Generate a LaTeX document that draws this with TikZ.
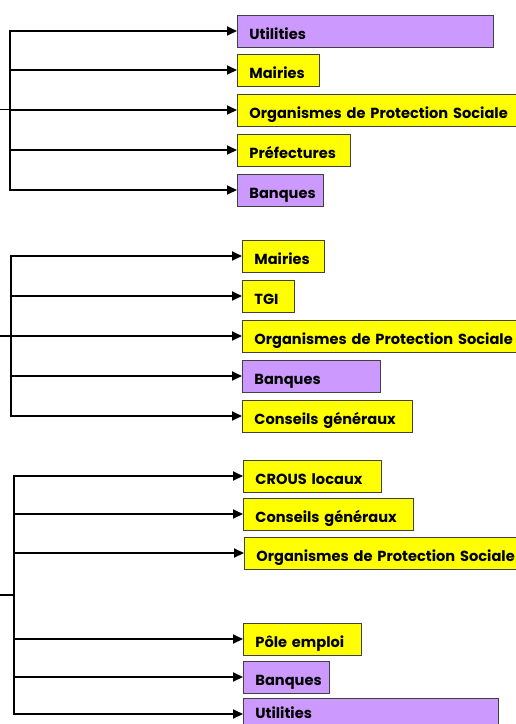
\documentclass[tikz,border=0pt]{standalone}
\usepackage{fontspec}
\setmainfont{Poppins}
\usetikzlibrary{arrows.meta}
\definecolor{orgyellow}{RGB}{255,255,0}
\definecolor{orgpurple}{RGB}{204,153,255}
\tikzset{
  org/.style={draw=black!75, line width=0.8pt, anchor=west, minimum height=32pt,
    inner xsep=12pt, inner ysep=0pt, text height=16pt, text depth=0pt,
    align=left, font=\fontsize{14.6}{16}\selectfont\bfseries},
  ylw/.style={org, fill=orgyellow},
  prp/.style={org, fill=orgpurple},
  link/.style={line width=2pt, -{Triangle[length=10pt,width=9pt]}},
  bus/.style={line width=2pt, line cap=rect}
}
\begin{document}
\begin{tikzpicture}[x=1pt, y=-1pt]
    \path[use as bounding box, clip] (0,0) rectangle (516,724);

    % first group
    \node[prp, text width=232pt] (util1) at (237,31) {Utilities};
    \node[ylw, text width=58pt] (mair1) at (237,70) {Mairies};
    \node[ylw, text width=276pt] (ops1) at (237,110) {Organismes de Protection Sociale};
    \node[ylw, text width=89pt] (pref1) at (237,150) {Préfectures};
    \node[prp, text width=62pt] (banq1) at (237,190) {Banques};

    \coordinate (in1) at (0,109);
    \coordinate (hub1) at (10,109);
    \coordinate (s1a) at (10,31);
    \coordinate (s1b) at (10,70);
    \coordinate (s1c) at (10,110);
    \coordinate (s1d) at (10,150);
    \coordinate (s1e) at (10,190);

    \draw[bus] (s1a) -- (s1e);
    \draw[line width=0.8pt] (in1) -- (hub1);
    \draw[link] (s1a) -- (util1);
    \draw[link] (s1b) -- (mair1);
    \draw[link] (s1c) -- (ops1);
    \draw[link] (s1d) -- (pref1);
    \draw[link] (s1e) -- (banq1);

    % second group
    \node[ylw, text width=58pt] (mair2) at (242,256) {Mairies};
    \node[ylw, text width=28pt] (tgi2) at (242,296) {TGI};
    \node[ylw, text width=276pt] (ops2) at (242,336) {Organismes de Protection Sociale};
    \node[prp, text width=114pt] (banq2) at (242,376) {Banques};
    \node[ylw, text width=146pt] (cg2) at (242,416) {Conseils généraux};

    \coordinate (in2) at (0,336);
    \coordinate (hub2) at (11,336);
    \coordinate (s2a) at (11,256);
    \coordinate (s2b) at (11,296);
    \coordinate (s2c) at (11,336);
    \coordinate (s2d) at (11,376);
    \coordinate (s2e) at (11,416);

    \draw[bus] (s2a) -- (s2e);
    \draw[line width=2pt] (in2) -- (hub2);
    \draw[link] (s2a) -- (mair2);
    \draw[link] (s2b) -- (tgi2);
    \draw[link] (s2c) -- (ops2);
    \draw[link] (s2d) -- (banq2);
    \draw[link] (s2e) -- (cg2);

    % third group
    \node[ylw, text width=114pt] (crous3) at (243,476) {CROUS locaux};
    \node[ylw, text width=146pt] (cg3) at (243,514) {Conseils généraux};
    \node[ylw, text width=276pt] (ops3) at (244,553) {Organismes de Protection Sociale};
    \node[ylw, text width=94pt] (pole3) at (243,639) {Pôle emploi};
    \node[prp, text width=62pt] (banq3) at (243,677) {Banques};
    \node[prp, text width=231pt, text height=9pt] (util3) at (243,714) {Utilities};

    \coordinate (in3) at (0,595);
    \coordinate (hub3) at (14,595);
    \coordinate (s3a) at (14,476);
    \coordinate (s3b) at (14,514);
    \coordinate (s3c) at (14,553);
    \coordinate (s3d) at (14,639);
    \coordinate (s3e) at (14,677);
    \coordinate (s3f) at (14,714);

    \draw[bus] (s3a) -- (s3f);
    \draw[line width=2pt] (in3) -- (hub3);
    \draw[link] (s3a) -- (crous3);
    \draw[link] (s3b) -- (cg3);
    \draw[link] (s3c) -- (ops3);
    \draw[link] (s3d) -- (pole3);
    \draw[link] (s3e) -- (banq3);
    \draw[link] (s3f) -- (util3);
\end{tikzpicture}
\end{document}
